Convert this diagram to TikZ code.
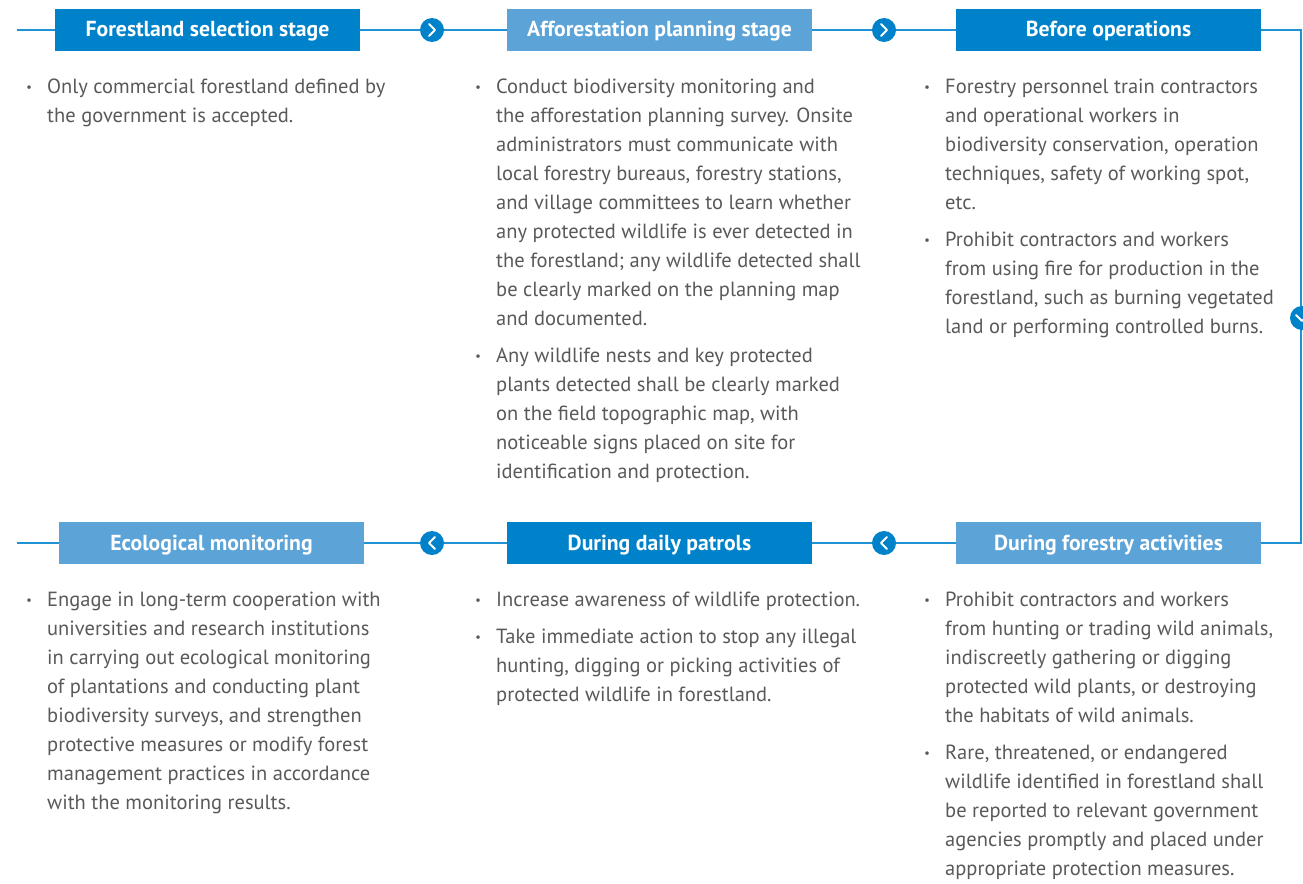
\documentclass[tikz,border=0pt]{standalone}
\usepackage{fontspec}
\setmainfont{PT Sans}
\definecolor{darkblue}{HTML}{0082CA}
\definecolor{lightblue}{HTML}{5CA3D8}
\definecolor{linecol}{HTML}{1F92D3}
\definecolor{textgray}{HTML}{595959}
\newcommand{\dotitem}{\llap{\raisebox{-2.5pt}{\fontsize{30}{29}\selectfont\textperiodcentered}\hspace{14pt}}}
\begin{document}
\begin{tikzpicture}[x=1pt,y=-1pt,
    head/.style={minimum width=305pt,minimum height=42pt,inner sep=0pt,text height=18pt,text depth=4pt,text=white,font=\fontsize{21.7}{24}\selectfont\bfseries},
    dark/.style={head,fill=darkblue},
    light/.style={head,fill=lightblue},
    turn/.style={circle,fill=darkblue,minimum size=24pt,inner sep=0pt},
    chev/.style={draw=white,line width=2pt,line cap=round,line join=round},
    txt/.style={anchor=north west,inner sep=0pt,align=left,text=textgray,font=\fontsize{20.5}{29}\selectfont},
    link/.style={draw=linecol,line width=1.6pt}]
    \useasboundingbox (0,0) rectangle (1303,883);

    % stage headers
    \node[dark]  (sel)    at (207.5,30)  {Forestland selection stage};
    \node[light] (plan)   at (659.5,30)  {Afforestation planning stage};
    \node[dark]  (before) at (1108.5,30) {Before operations};
    \node[light] (eco)    at (211.5,543) {Ecological monitoring};
    \node[dark]  (patrol) at (659.5,543) {During daily patrols};
    \node[light] (during) at (1108.5,543) {During forestry activities};

    % corners of the timeline
    \coordinate (tl) at (17,30);
    \coordinate (tr) at (1301,30);
    \coordinate (br) at (1301,543);
    \coordinate (bl) at (17,543);

    \draw[link] (tl) -- (sel);
    \draw[link] (sel) -- (plan) -- (before) -- (tr) -- (br) -- (during) -- (patrol) -- (eco) -- (bl);

    % direction marks
    \node[turn] (c1) at (432,30) {};
    \node[turn] (c2) at (884,30) {};
    \node[turn] (c3) at (884,543) {};
    \node[turn] (c4) at (432,543) {};
    \node[turn] (c5) at (1302,318) {};
    \draw[chev] (c1) ++(-3,-6) -- ++(6,6) -- ++(-6,6);
    \draw[chev] (c2) ++(-3,-6) -- ++(6,6) -- ++(-6,6);
    \draw[chev] (c3) ++(3,-6) -- ++(-6,6) -- ++(6,6);
    \draw[chev] (c4) ++(3,-6) -- ++(-6,6) -- ++(6,6);
    \draw[chev] (c5) ++(-6,-3) -- ++(6,6) -- ++(6,-6);

    % texts
    \node[txt] (selT) at (47,79) {\dotitem Only commercial forestland defined by\\
        the government is accepted.};
    \node[txt] (planT) at (496,79) {\dotitem Conduct biodiversity monitoring and\\
        the afforestation planning survey. Onsite\\
        administrators must communicate with\\
        local forestry bureaus, forestry stations,\\
        and village committees to learn whether\\
        any protected wildlife is ever detected in\\
        the forestland; any wildlife detected shall\\
        be clearly marked on the planning map\\
        and documented.\\[8pt]
        \dotitem Any wildlife nests and key protected\\
        plants detected shall be clearly marked\\
        on the field topographic map, with\\
        noticeable signs placed on site for\\
        identification and protection.};
    \node[txt] (beforeT) at (945,79) {\dotitem Forestry personnel train contractors\\
        and operational workers in\\
        biodiversity conservation, operation\\
        techniques, safety of working spot,\\
        etc.\\[8pt]
        \dotitem Prohibit contractors and workers\\
        from using fire for production in the\\
        forestland, such as burning vegetated\\
        land or performing controlled burns.};
    \node[txt] (ecoT) at (47,592) {\dotitem Engage in long-term cooperation with\\
        universities and research institutions\\
        in carrying out ecological monitoring\\
        of plantations and conducting plant\\
        biodiversity surveys, and strengthen\\
        protective measures or modify forest\\
        management practices in accordance\\
        with the monitoring results.};
    \node[txt] (patrolT) at (496,592) {\dotitem Increase awareness of wildlife protection.\\[8pt]
        \dotitem Take immediate action to stop any illegal\\
        hunting, digging or picking activities of\\
        protected wildlife in forestland.};
    \node[txt] (duringT) at (945,592) {\dotitem Prohibit contractors and workers\\
        from hunting or trading wild animals,\\
        indiscreetly gathering or digging\\
        protected wild plants, or destroying\\
        the habitats of wild animals.\\[8pt]
        \dotitem Rare, threatened, or endangered\\
        wildlife identified in forestland shall\\
        be reported to relevant government\\
        agencies promptly and placed under\\
        appropriate protection measures.};
\end{tikzpicture}
\end{document}
